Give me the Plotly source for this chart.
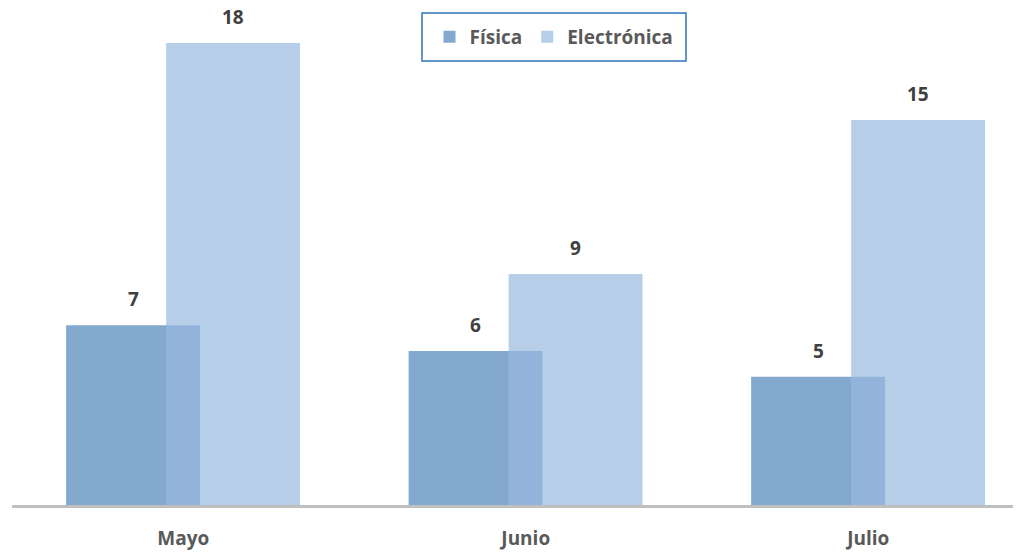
import plotly.graph_objects as go

categories = ["Mayo", "Junio", "Julio"]
fisica = [7, 6, 5]
electronica = [18, 9, 15]
series_names = ["Física", "Electrónica"]

W, H = 1021, 552
FONT = "Open Sans"
BAR_W = 0.391
OFF_F = -0.342
OFF_E = -0.05
PLOT_H = 497
PLOT_W = 1017

fig = go.Figure()
fig.add_trace(go.Bar(
    x=categories, y=fisica, name=series_names[0],
    offset=OFF_F, width=BAR_W,
    marker=dict(color="rgb(132,169,207)", line=dict(width=0)),
))
fig.add_trace(go.Bar(
    x=categories, y=electronica, name=series_names[1],
    offset=OFF_E, width=BAR_W,
    marker=dict(color="rgba(152,185,224,0.7)", line=dict(width=0)),
))

lab_font = dict(family=FONT, size=19, color="#404040", weight="bold")
annotations = []
for i, v in enumerate(fisica):
    annotations.append(dict(x=i + OFF_F + BAR_W / 2, y=v, text=str(v), showarrow=False,
                            yshift=26, font=lab_font))
for i, v in enumerate(electronica):
    annotations.append(dict(x=i + OFF_E + BAR_W / 2, y=v, text=str(v), showarrow=False,
                            yshift=26, font=lab_font))

fig.update_layout(
    width=W, height=H,
    margin=dict(l=4, r=0, t=0, b=H - PLOT_H),
    barmode="overlay",
    plot_bgcolor="white", paper_bgcolor="white",
    showlegend=True,
    legend=dict(orientation="h", x=(546 - 4) / PLOT_W, xanchor="center",
                y=1 - 29 / PLOT_H, yanchor="middle",
                font=dict(family=FONT, size=19, color="#595959", weight="bold"),
                bgcolor="rgba(0,0,0,0)", borderwidth=0, itemwidth=30),
    annotations=annotations,
    shapes=[dict(type="rect", xref="paper", yref="paper",
                 x0=(414 - 4) / PLOT_W, x1=(678 - 4) / PLOT_W,
                 y0=1 - 53 / PLOT_H, y1=1 - 5 / PLOT_H,
                 line=dict(color="#2E75B6", width=1.5), fillcolor="rgba(0,0,0,0)")],
    xaxis=dict(range=[-0.5, -0.5 + PLOT_W / 342.5], showgrid=False, showline=True,
               linecolor="#BFBFBF", linewidth=2.5, ticks="", ticklabelstandoff=14,
               tickfont=dict(family=FONT, size=19, color="#595959", weight="bold")),
    yaxis=dict(range=[0, PLOT_H / 25.67], showgrid=False, showticklabels=False,
               zeroline=False, showline=False),
)

fig.write_html("out.html")
